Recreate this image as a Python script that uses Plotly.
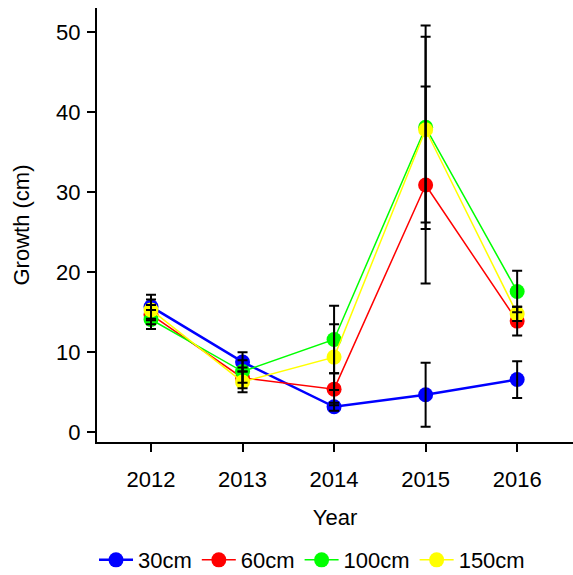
import plotly.graph_objects as go

years = [2012, 2013, 2014, 2015, 2016]
series_names = ["30cm", "60cm", "100cm", "150cm"]
colors = ["#0000FF", "#FF0000", "#00FF00", "#FFFF00"]

growth_30 = [15.7, 8.8, 3.2, 4.7, 6.6]
growth_60 = [14.7, 6.8, 5.4, 30.9, 13.9]
growth_100 = [14.1, 7.6, 11.6, 38.1, 17.6]
growth_150 = [15.3, 6.3, 9.4, 37.8, 14.8]

err_30 = [1.5, 1.2, 0.5, 4.0, 2.3]
err_60 = [1.2, 1.3, 2.0, 12.3, 1.8]
err_100 = [1.2, 1.4, 4.2, 12.7, 2.6]
err_150 = [1.3, 1.3, 4.1, 11.6, 0.9]

values = [growth_30, growth_60, growth_100, growth_150]
errors = [err_30, err_60, err_100, err_150]
line_widths = [2.5, 1.5, 1.5, 1.5]

fig = go.Figure()

for name, col, vals, lw in zip(series_names, colors, values, line_widths):
    fig.add_trace(go.Scatter(
        x=years, y=vals, name=name, mode="lines+markers",
        line=dict(color=col, width=lw),
        marker=dict(color=col, size=15),
    ))

# error bars drawn above all markers
for vals, errs in zip(values, errors):
    fig.add_trace(go.Scatter(
        x=years, y=vals, mode="markers", showlegend=False, hoverinfo="skip",
        marker=dict(size=1, opacity=0),
        error_y=dict(type="data", array=errs, color="black", thickness=2, width=5),
    ))

font = "Liberation Sans, Arial, sans-serif"
fs = 22
fig.update_layout(
    width=573, height=575,
    margin=dict(l=97, r=0, t=8, b=133, autoexpand=False),
    paper_bgcolor="white", plot_bgcolor="white",
    font=dict(family=font, size=fs, color="black"),
    showlegend=True,
    legend=dict(orientation="h", x=0.4517, xanchor="center", y=-0.272, yanchor="middle",
                font=dict(size=fs), itemwidth=34, tracegroupgap=0),
    xaxis=dict(
        range=[2011.41, 2016.61], tickmode="array", tickvals=years,
        ticktext=[str(y) for y in years], showgrid=False, zeroline=False,
        showline=True, linecolor="black", linewidth=2,
        ticks="outside", ticklen=8, tickwidth=1.5, tickcolor="black",
        tickfont=dict(size=fs), ticklabelstandoff=9,
        title=dict(text="Year", font=dict(size=fs), standoff=18),
    ),
    yaxis=dict(
        range=[-1.2, 53.0], tickvals=[0, 10, 20, 30, 40, 50],
        showgrid=False, zeroline=False,
        showline=True, linecolor="black", linewidth=2,
        ticks="outside", ticklen=8, tickwidth=1.5, tickcolor="black",
        tickfont=dict(size=fs), ticklabelstandoff=2,
        title=dict(text="Growth (cm)", font=dict(size=fs), standoff=20),
    ),
)

fig.write_html("out.html")
